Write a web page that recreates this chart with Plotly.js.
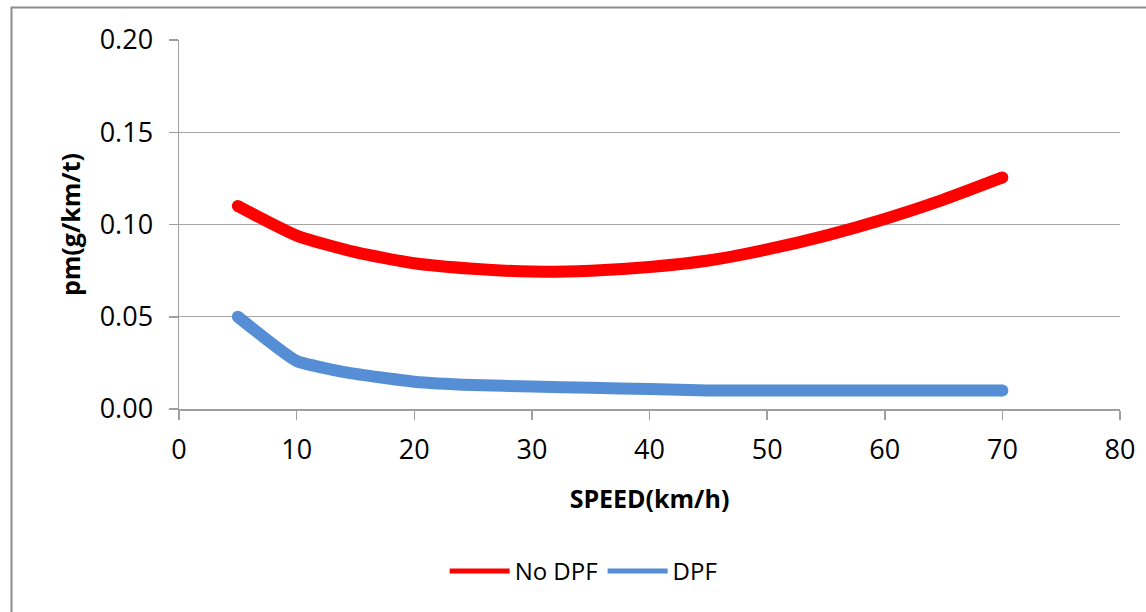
<!DOCTYPE html>
<html>
<head>
<meta charset="utf-8">
<script src="https://cdn.plot.ly/plotly-3.0.1.min.js"></script>
<style>html,body{margin:0;padding:0;background:#fff;}#chart{width:1146px;height:612px;}</style>
</head>
<body>
<div id="chart"></div>
<script>
const speed = [5, 10, 15, 20, 25, 30, 35, 40, 45, 50, 55, 60, 65, 70];
const noDPF = [0.110, 0.094, 0.085, 0.079, 0.076, 0.0745, 0.075, 0.077, 0.0805, 0.0865, 0.094, 0.103, 0.1135, 0.1255];
const dpf = [0.050, 0.026, 0.019, 0.0148, 0.0130, 0.0122, 0.0115, 0.0108, 0.0100, 0.0100, 0.0100, 0.0100, 0.0100, 0.0100];
const seriesNames = ["No DPF", "DPF"];
const xTitle = "SPEED(km/h)";
const yTitle = "pm(g/km/t)";

const font = "Open Sans, Lato, Liberation Sans, sans-serif";
const colors = ["#ff0000", "#558ed5"];
const ends = (arr) => [arr[0], arr[arr.length - 1]];
const traces = [
  {x: speed, y: noDPF, name: seriesNames[0], mode: "lines", type: "scatter",
   line: {color: colors[0], width: 12, shape: "spline", smoothing: 0.6}},
  {x: speed, y: dpf, name: seriesNames[1], mode: "lines", type: "scatter",
   line: {color: colors[1], width: 12, shape: "spline", smoothing: 0.4}},
  {x: ends(speed), y: ends(noDPF), mode: "markers", type: "scatter", showlegend: false, hoverinfo: "skip",
   marker: {color: colors[0], size: 12, line: {width: 0}}},
  {x: ends(speed), y: ends(dpf), mode: "markers", type: "scatter", showlegend: false, hoverinfo: "skip",
   marker: {color: colors[1], size: 12, line: {width: 0}}}
];
const layout = {
  width: 1146, height: 612,
  margin: {l: 179, r: 26, t: 40, b: 203},
  paper_bgcolor: "#fff", plot_bgcolor: "#fff",
  font: {family: font, color: "#000"},
  showlegend: true,
  legend: {orientation: "h", x: 0.43, xanchor: "center", y: -0.44, yanchor: "middle",
           font: {size: 24, family: font}, itemwidth: 60, itemsizing: "constant", tracegroupgap: 0},
  xaxis: {range: [0, 80], dtick: 10, tick0: 0, showgrid: false, zeroline: false,
          showline: true, linecolor: "#a0a0a0", linewidth: 1.5,
          ticks: "outside", ticklen: 9, tickcolor: "#a0a0a0", tickwidth: 1.5, ticklabelstandoff: 7,
          tickfont: {size: 27, family: font}, fixedrange: true,
          title: {text: xTitle, font: {size: 25, family: font, weight: "bold"}, standoff: 24}},
  yaxis: {range: [0, 0.2], dtick: 0.05, tickformat: ".2f", showgrid: true, gridcolor: "#a6a6a6", gridwidth: 1.2,
          zeroline: false, showline: true, linecolor: "#a0a0a0", linewidth: 1.5,
          ticks: "outside", ticklen: 9, tickcolor: "#a0a0a0", tickwidth: 1.5, ticklabelstandoff: 10,
          tickfont: {size: 27, family: font}, fixedrange: true,
          title: {text: yTitle, font: {size: 25, family: font, weight: "bold"}, standoff: 12}},
  shapes: [
    {type: "rect", xref: "paper", yref: "paper",
     x0: (11.5 - 179) / 941, x1: (1160 - 179) / 941,
     y0: (409 - 625) / 369, y1: (409 - 7.5) / 369,
     line: {color: "#8c8c8c", width: 2}, fillcolor: "rgba(0,0,0,0)"}
  ]
};
Plotly.newPlot("chart", traces, layout, {displayModeBar: false, staticPlot: true});
</script>
</body>
</html>
